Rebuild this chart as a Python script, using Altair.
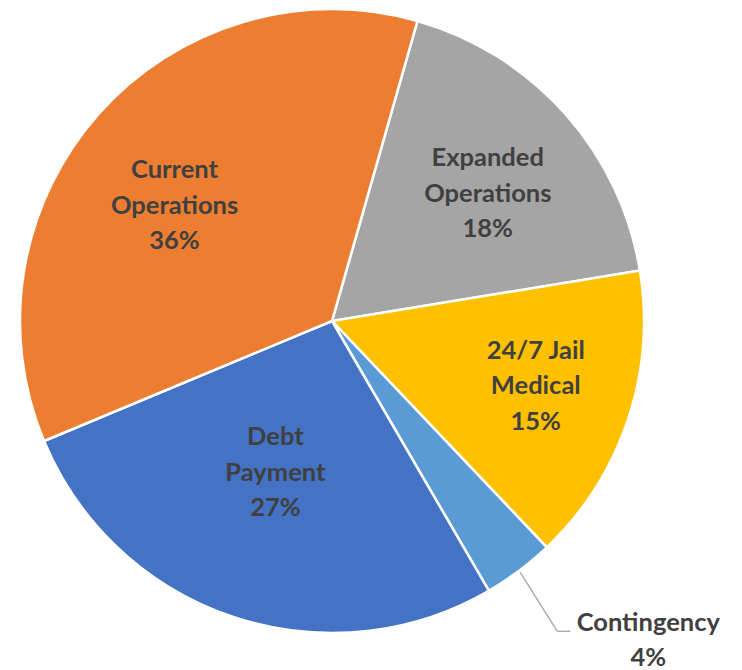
import math
import altair as alt
import pandas as pd

# ---- data ----
categories = ["Expanded Operations", "24/7 Jail Medical", "Contingency", "Debt Payment", "Current Operations"]
label_lines = ["Expanded\nOperations", "24/7 Jail\nMedical", "Contingency", "Debt\nPayment", "Current\nOperations"]
shares = [18.0, 15.5, 3.7, 27.1, 35.7]
pct_labels = ["18%", "15%", "4%", "27%", "36%"]
colors = ["#A5A5A5", "#FFC000", "#5B9BD5", "#4472C4", "#ED7D31"]

df = pd.DataFrame({
    "idx": list(range(len(categories))),
    "category": categories,
    "share": shares,
    "label": [f"{a}\n{b}" for a, b in zip(label_lines, pct_labels)],
})

# ---- layout / style ----
W, H = 648, 626
CX, CY = W / 2, H / 2
R = 312
START = math.radians(15.9)
FONT = "Lato"
FS = 25.5
LH = 35.5
TXT = "#404040"
OUTSIDE = "Contingency"

# label placement (best-fit style, per slice): radius in px, angular shift in degrees
place_r = {"Expanded Operations": 201, "24/7 Jail Medical": 214, "Debt Payment": 162, "Current Operations": 195}
place_d = {"Expanded Operations": 2.5, "24/7 Jail Medical": -0.8, "Debt Payment": 1.85, "Current Operations": -5.5}


def lookup_expr(d, default):
    expr = str(default)
    for k, v in d.items():
        expr = f"(datum.category === '{k}' ? {v} : {expr})"
    return expr


pie = alt.Chart(df).mark_arc(outerRadius=R, stroke="white", strokeWidth=2.5).encode(
    theta=alt.Theta("share:Q", stack=True, scale=alt.Scale(range=[START, START + 2 * math.pi])),
    order=alt.Order("idx:Q"),
    color=alt.Color("category:N", scale=alt.Scale(domain=categories, range=colors), legend=None),
)

geo = (
    alt.Chart(df)
    .transform_joinaggregate(total="sum(share)")
    .transform_window(cum="sum(share)", sort=[alt.SortField("idx")], frame=[None, 0])
    .transform_calculate(mid=f"{START} + 2*PI*(datum.cum - datum.share/2)/datum.total")
)

inside = (
    geo.transform_filter(f"datum.category !== '{OUTSIDE}'")
    .transform_calculate(
        lr=lookup_expr(place_r, 200),
        la=f"datum.mid + {lookup_expr(place_d, 0)}*PI/180",
    )
    .transform_calculate(
        lx=f"{CX} + datum.lr*sin(datum.la)",
        ly=f"{CY} - datum.lr*cos(datum.la)",
    )
    .mark_text(font=FONT, fontSize=FS, fontWeight="bold", color=TXT, lineBreak="\n",
               lineHeight=LH, align="center", baseline="middle", dy=-LH)
    .encode(x=alt.X("lx:Q", scale=None), y=alt.Y("ly:Q", scale=None), text="label:N")
)

lead = (
    geo.transform_filter(f"datum.category === '{OUTSIDE}'")
    .transform_calculate(
        x1=f"{CX} + {R + 2}*sin(datum.mid)",
        y1=f"{CY} - {R + 2}*cos(datum.mid)",
    )
    .transform_calculate(x2="datum.x1 + 37", y2="datum.y1 + 59")
    .transform_calculate(x3="datum.x2 + 13", tx="datum.x2 + 91", ty="datum.y2 + 9")
)

seg1 = lead.mark_rule(color="#A6A6A6", strokeWidth=1.3).encode(
    x=alt.X("x1:Q", scale=None), y=alt.Y("y1:Q", scale=None), x2="x2:Q", y2="y2:Q"
)
seg2 = lead.mark_rule(color="#A6A6A6", strokeWidth=1.3).encode(
    x=alt.X("x2:Q", scale=None), y=alt.Y("y2:Q", scale=None), x2="x3:Q", y2="y2:Q"
)
outside = lead.mark_text(font=FONT, fontSize=FS, fontWeight="bold", color=TXT, lineBreak="\n",
                         lineHeight=LH, align="center", baseline="middle", dy=-LH / 2).encode(
    x=alt.X("tx:Q", scale=None), y=alt.Y("ty:Q", scale=None), text="label:N"
)

chart = (
    alt.layer(pie, inside, seg1, seg2, outside)
    .properties(
        width=W,
        height=H,
        autosize=alt.AutoSizeParams(type="none"),
        padding={"left": 0, "top": 0, "right": 78, "bottom": 36},
    )
    .configure(background="white")
    .configure_view(strokeWidth=0, stroke="transparent")
)

chart.save("out.html", embed_options={"renderer": "svg", "actions": False})
